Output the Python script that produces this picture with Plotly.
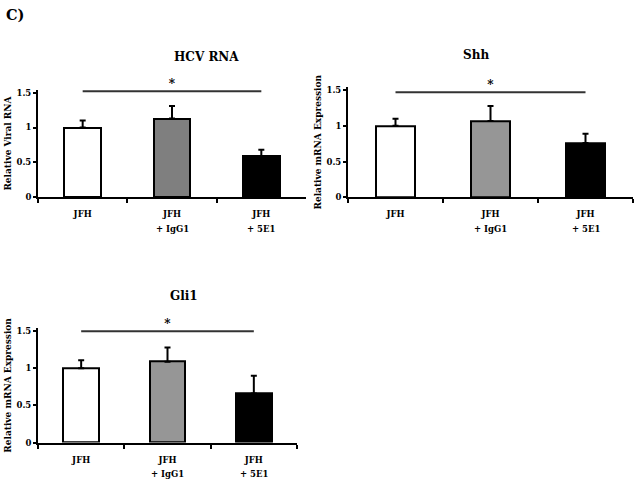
import plotly.graph_objects as go

W, H = 639, 489

categories = ["JFH", "JFH + IgG1", "JFH + 5E1"]
line1 = ["JFH", "JFH", "JFH"]
line2 = ["", "+ IgG1", "+ 5E1"]

hcv_vals = [1.00, 1.13, 0.59]
hcv_err = [0.10, 0.18, 0.09]
shh_vals = [1.00, 1.07, 0.76]
shh_err = [0.10, 0.21, 0.13]
gli_vals = [1.00, 1.09, 0.66]
gli_err = [0.11, 0.19, 0.24]

titles = ["HCV RNA", "Shh", "Gli1"]
ytitles = ["Relative Viral RNA", "Relative mRNA Expression", "Relative mRNA Expression"]
sig_levels = [1.52, 1.47, 1.50]
ytickvals = [0, 0.5, 1, 1.5]
yticktext = ["0", "0.5", "1", "1.5"]

FONT = "DejaVu Serif"
YMAX = 1.54

# pixel boxes (x0, x1, y of 0, y of 1.5) for each panel
boxes = [(38, 306, 198, 92), (348, 633, 198, 89.5), (38, 297, 447, 334)]
gray_cols = ["#7f7f7f", "#969696", "#969696"]

fig = go.Figure()
series = [(hcv_vals, hcv_err), (shh_vals, shh_err), (gli_vals, gli_err)]

for i, ((vals, errs), box) in enumerate(zip(series, boxes)):
    n = "" if i == 0 else str(i + 1)
    xa, ya = "x" + n, "y" + n
    x0, x1, yb, y15 = box
    yt = yb - (yb - y15) * YMAX / 1.5
    fig.add_trace(go.Bar(
        x=categories, y=vals, xaxis=xa, yaxis=ya,
        width=0.41,
        marker=dict(color=["white", gray_cols[i], "black"],
                    line=dict(color="black", width=2)),
        error_y=dict(type="data", array=errs, arrayminus=[0, 0, 0],
                     symmetric=False, color="black", thickness=2, width=3),
        showlegend=False, hoverinfo="skip",
    ))
    # significance line
    fig.add_trace(go.Scatter(
        x=[categories[0], categories[2]], y=[sig_levels[i]] * 2,
        xaxis=xa, yaxis=ya, mode="lines",
        line=dict(color="#333333", width=2), cliponaxis=False,
        showlegend=False, hoverinfo="skip",
    ))
    fig.add_trace(go.Scatter(
        x=[categories[1]], y=[sig_levels[i]], xaxis=xa, yaxis=ya,
        mode="text", text=["*"], textposition="top center",
        textfont=dict(family=FONT, size=12, color="black", weight="bold"),
        cliponaxis=False, showlegend=False, hoverinfo="skip",
    ))
    axis_x = dict(
        domain=[x0 / W, x1 / W], anchor=ya,
        type="category", categoryorder="array", categoryarray=categories,
        range=[-0.5, 2.5], tickson="boundaries",
        ticks="outside", ticklen=4, tickwidth=2, tickcolor="black",
        ticklabelstandoff=8,
        showline=True, linecolor="black", linewidth=2,
        showgrid=False, zeroline=False,
        tickvals=categories, ticktext=line1,
        tickfont=dict(family=FONT, size=8.5, color="black", weight="bold"),
        fixedrange=True,
    )
    axis_y = dict(
        domain=[1 - yb / H, 1 - yt / H], anchor=xa,
        range=[0, YMAX], tickvals=ytickvals, ticktext=yticktext,
        ticks="outside", ticklen=3, tickwidth=1.5, tickcolor="black",
        showline=True, linecolor="black", linewidth=2,
        showgrid=False, zeroline=False,
        tickfont=dict(family=FONT, size=8.5, color="black", weight="bold"),
        title=dict(text=ytitles[i],
                   font=dict(family=FONT, size=9, color="black", weight="bold"),
                   standoff=3),
        fixedrange=True,
    )
    fig.layout["xaxis" + n] = axis_x
    fig.layout["yaxis" + n] = axis_y
    # second line of category labels
    for c, t in zip(categories, line2):
        if t:
            fig.add_annotation(x=c, xref=xa, y=1 - (yb + 32) / H, yref="paper",
                               text=t, showarrow=False, yanchor="middle",
                               font=dict(family=FONT, size=8.5, color="black",
                                         weight="bold"))
    # panel title
    fig.add_annotation(x=(x0 + x1) / 2 / W, xref="paper",
                       y=1 - (y15 - 36) / H, yref="paper",
                       text=titles[i], showarrow=False,
                       yanchor="middle",
                       font=dict(family=FONT, size=12, color="black", weight="bold"))

fig.add_annotation(x=4 / W, xref="paper", y=1 - 13 / H, yref="paper",
                   text="C)", showarrow=False, xanchor="left",
                   yanchor="middle",
                   font=dict(family=FONT, size=14.5, color="black", weight="bold"))

fig.update_layout(
    width=W, height=H, margin=dict(l=0, r=0, t=0, b=0),
    paper_bgcolor="white", plot_bgcolor="white",
    font=dict(family=FONT, color="black"), bargap=0,
)

fig.write_html("out.html", config={"displayModeBar": False},
               post_script="document.body.style.margin='0';document.body.style.overflow='hidden';")
